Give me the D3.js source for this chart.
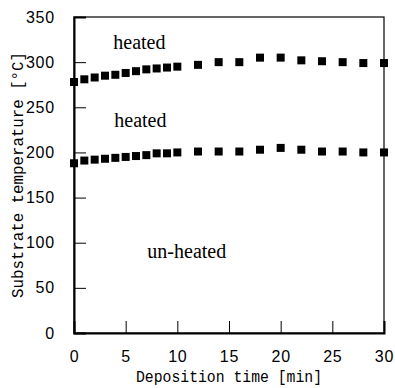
<!DOCTYPE html>
<html>
<head>
<meta charset="utf-8">
<script src="https://cdn.jsdelivr.net/npm/d3@7"></script>
<style>
body { margin: 0; background: #fff; }
</style>
</head>
<body>
<svg width="395" height="388"></svg>
<script>
// deposition time (min) and substrate temperature (C)
var times = [0, 1, 2, 3, 4, 5, 6, 7, 8, 9, 10, 12, 14, 16, 18, 20, 22, 24, 26, 28, 30];
var upperTemps = [278, 281, 283, 285, 286, 288, 290, 292, 293, 294, 295, 297, 300, 300, 305, 305, 302, 301, 300, 299, 299];
var lowerTemps = [188, 191, 192, 193, 194, 195, 196, 197, 199, 199, 200, 201, 201, 201, 203, 205, 203, 201, 201, 200, 200];
var xTicks = [0, 5, 10, 15, 20, 25, 30];
var yTicks = [0, 50, 100, 150, 200, 250, 300, 350];
var notes = [
	{text: "heated", t: 3.8, v: 315},
	{text: "heated", t: 3.9, v: 228},
	{text: "un-heated", t: 7.1, v: 83}
];

var plotLeft = 74, plotRight = 384, plotTop = 17, plotBottom = 333;
var svg = d3.select("svg");

var x = d3.scaleLinear().domain([0, 30]).range([plotLeft, plotRight]);
var y = d3.scaleLinear().domain([0, 350]).range([plotBottom, plotTop]);

var tickFont = "'Liberation Sans Narrow', 'Liberation Sans', sans-serif";

// frame
svg.append("rect")
	.attr("x", plotLeft).attr("y", plotTop)
	.attr("width", plotRight - plotLeft).attr("height", plotBottom - plotTop)
	.style("fill", "none").style("stroke", "#000").style("stroke-width", 1.2);

var yAxis = svg.append("g")
	.attr("transform", "translate(" + plotLeft + ",0)")
	.call(d3.axisLeft(y).tickValues(yTicks).tickSize(-12).tickPadding(19));
var xAxis = svg.append("g")
	.attr("transform", "translate(0," + plotBottom + ")")
	.call(d3.axisBottom(x).tickValues(xTicks).tickSize(-12).tickPadding(18));

[xAxis, yAxis].forEach(function(a){
	a.select(".domain").style("stroke", "#000").style("stroke-width", 2);
	a.selectAll(".tick line").style("stroke", "#000").style("stroke-width", 1);
	a.selectAll(".tick text")
		.style("font-family", tickFont).style("font-size", "16px")
		.style("letter-spacing", "0.8px").style("fill", "#000");
});
xAxis.selectAll(".tick").filter(function(d){ return d == 0 || d == 30; }).select("line").remove();
yAxis.selectAll(".tick").filter(function(d){ return d == 0 || d == 350; }).select("line").remove();

// markers
function drawSeries(vals){
	var pts = times.map(function(t, i){ return {t: t, v: vals[i]}; });
	svg.append("g").selectAll("rect").data(pts).enter()
		.append("rect")
		.attr("x", function(d){ return x(d.t) - 4; })
		.attr("y", function(d){ return y(d.v) - 4; })
		.attr("width", 8).attr("height", 8)
		.style("fill", "#000");
}
drawSeries(upperTemps);
drawSeries(lowerTemps);

// annotations
svg.append("g").selectAll("text").data(notes).enter()
	.append("text")
	.attr("x", function(d){ return x(d.t); })
	.attr("y", function(d){ return y(d.v); })
	.style("font-family", "'Liberation Serif', 'Times New Roman', serif")
	.style("font-size", "20px")
	.text(function(d){ return d.text; });

// axis titles
svg.append("text")
	.attr("x", (plotLeft + plotRight) / 2).attr("y", 382)
	.attr("text-anchor", "middle")
	.attr("textLength", 186).attr("lengthAdjust", "spacingAndGlyphs")
	.style("font-family", "'Liberation Mono', 'DejaVu Sans Mono', monospace")
	.style("font-size", "16px")
	.text("Deposition time [min]");

svg.append("text")
	.attr("transform", "translate(23," + ((plotTop + plotBottom) / 2) + ") rotate(-90)")
	.attr("text-anchor", "middle")
	.attr("textLength", 246).attr("lengthAdjust", "spacingAndGlyphs")
	.style("font-family", "'Liberation Mono', 'DejaVu Sans Mono', monospace")
	.style("font-size", "16px")
	.text("Substrate temperature [°C]");
</script>
</body>
</html>
